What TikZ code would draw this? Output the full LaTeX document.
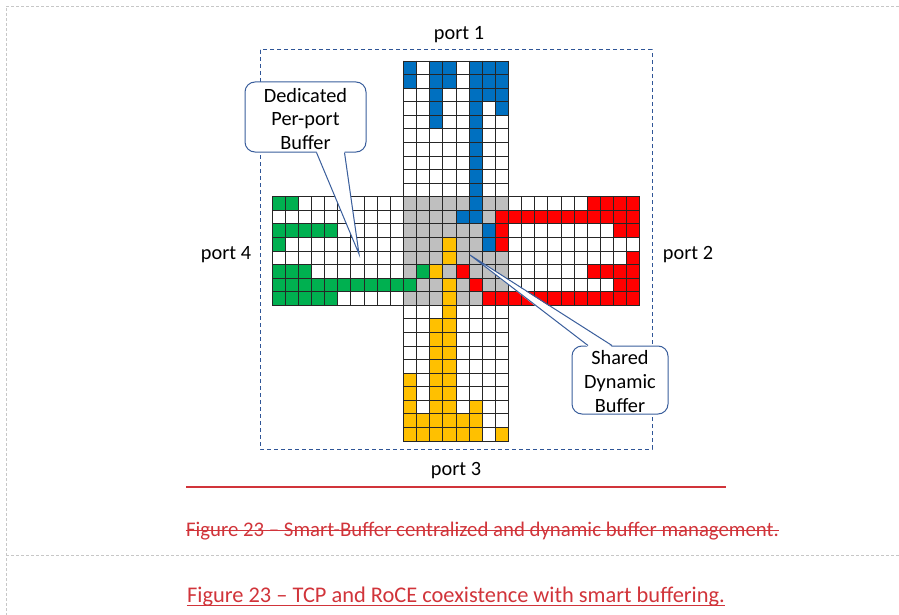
\documentclass[tikz,border=0pt]{standalone}
\usepackage{fontspec}
\setmainfont{Carlito}
\definecolor{cblue}{HTML}{0070C0}
\definecolor{cgreen}{HTML}{00B050}
\definecolor{cred}{HTML}{FF0000}
\definecolor{cyellow}{HTML}{FFC000}
\definecolor{cgray}{HTML}{BFBFBF}
\definecolor{portblue}{HTML}{2F5597}
\definecolor{bubbleblue}{HTML}{3A5E9C}
\definecolor{capred}{HTML}{D1343A}
\tikzset{
  cellline/.style={draw=black!85, line width=0.9pt, line cap=rect},
  frameline/.style={draw=black!22, dash pattern=on 3pt off 2pt, line width=0.8pt},
  portframe/.style={draw=portblue, dash pattern=on 4pt off 3pt, line width=1pt},
  bubble/.style={draw=bubbleblue, line width=1pt, fill=white, rounded corners=10pt, inner sep=0pt},
  bubbletext/.style={align=center, inner sep=0pt, font=\fontsize{20.3}{23.7}\selectfont},
  bubbleline/.style={draw=bubbleblue, line width=1pt, line join=miter},
  portlabel/.style={font=\fontsize{20.3}{24}\selectfont, inner sep=0pt, anchor=base},
  caption/.style={text=capred, inner sep=0pt, anchor=base},
  capline/.style={draw=capred, line width=1.3pt},
}
\begin{document}
\begin{tikzpicture}[x=1pt,y=-1pt]
\useasboundingbox (0,0) rectangle (899,615);
\fill[white] (0,0) rectangle (899,615);

% page frame
\draw[frameline] (899,6) -- (6,6) -- (6,615);
\draw[frameline] (6,555) -- (899,555);

% switch boundary
\draw[portframe] (260,50) rectangle (652,449);

% buffer cells: cross of 28 x 28 cells
\begin{scope}[shift={(272,61)}, x=13.14pt, y=-13.57pt]
  \fill[white] (10,0) rectangle (18,28);
  \fill[white] (0,10) rectangle (28,18);
  \fill[cgray] (10,10) rectangle (18,18);
  % port 1 queue
  \foreach \ca/\cb/\ra/\rb in {10/10/0/1, 12/13/0/1, 15/17/0/2, 12/12/2/4, 17/17/3/3,
      15/15/3/11, 14/14/11/11, 16/16/12/13}
    \fill[cblue] (\ca,\ra) rectangle ({\cb+1},{\rb+1});
  % port 2 queue
  \foreach \ca/\cb/\ra/\rb in {24/27/10/10, 17/27/11/11, 17/17/12/13, 26/27/12/12,
      27/27/14/14, 14/14/15/15, 24/27/15/15, 15/15/16/16, 26/27/16/16, 16/27/17/17}
    \fill[cred] (\ca,\ra) rectangle ({\cb+1},{\rb+1});
  % port 4 queue
  \foreach \ca/\cb/\ra/\rb in {0/1/10/10, 0/4/12/12, 0/0/13/13, 0/2/15/15, 11/11/15/15,
      0/10/16/16, 0/4/17/17}
    \fill[cgreen] (\ca,\ra) rectangle ({\cb+1},{\rb+1});
  % port 3 queue
  \foreach \ca/\cb/\ra/\rb in {13/13/13/14, 12/12/15/15, 13/13/16/27, 12/12/19/27,
      10/10/23/27, 11/11/26/27, 14/14/26/27, 15/15/25/27, 17/17/27/27}
    \fill[cyellow] (\ca,\ra) rectangle ({\cb+1},{\rb+1});
  % cell borders
  \foreach \i in {10,...,18} \draw[cellline] (\i,0) -- (\i,28);
  \foreach \i in {0,...,9,19,20,...,28} \draw[cellline] (\i,10) -- (\i,18);
  \foreach \j in {10,...,18} \draw[cellline] (0,\j) -- (28,\j);
  \foreach \j in {0,...,9,19,20,...,28} \draw[cellline] (10,\j) -- (18,\j);
\end{scope}

% port labels
\node[portlabel] (port1) at (459,40) {port 1};
\node[portlabel] (port2) at (688,259) {port 2};
\node[portlabel] (port3) at (456,475) {port 3};
\node[portlabel] (port4) at (226,259) {port 4};

% callout: dedicated buffer
\node[bubble, minimum width=121pt, minimum height=70pt] (dedicated) at (305.5,117) {};
\coordinate (dedtip) at (359,254);
\fill[white] ([xshift=11pt,yshift=1.5pt]dedicated.south) -- (dedtip)
  -- ([xshift=39pt,yshift=1.5pt]dedicated.south) -- cycle;
\draw[bubbleline] ([xshift=11pt]dedicated.south) -- (dedtip) -- ([xshift=39pt]dedicated.south);
\node[bubbletext] (dedicatedtext) at ([yshift=-2pt]dedicated.center) {Dedicated\\Per-port\\Buffer};

% callout: shared buffer
\node[bubble, minimum width=96pt, minimum height=68pt] (shared) at (620,380) {};
\coordinate (sharedtip) at (470,255);
\fill[white] ([xshift=-32pt,yshift=-1.5pt]shared.north) -- (sharedtip)
  -- ([xshift=-8pt,yshift=-1.5pt]shared.north) -- cycle;
\draw[bubbleline] ([xshift=-32pt]shared.north) -- (sharedtip) -- ([xshift=-8pt]shared.north);
\node[bubbletext] (sharedtext) at ([yshift=-1.5pt]shared.center) {Shared\\Dynamic\\Buffer};

% captions
\draw[capline, line width=1.5pt] (186,487) -- (726,487);
\node[caption, font=\fontsize{20.8}{25}\selectfont] (oldcap) at (482.5,536)
  {Figure 23 – Smart-Buffer centralized and dynamic buffer management.};
\draw[capline] ([yshift=5.5pt]oldcap.base west) -- ([yshift=5.5pt]oldcap.base east);
\node[caption, font=\fontsize{22.4}{27}\selectfont] (newcap) at (456,602)
  {Figure 23 – TCP and RoCE coexistence with smart buffering.};
\draw[capline] ([yshift=-3.5pt]newcap.base west) -- ([yshift=-3.5pt]newcap.base east);
\end{tikzpicture}
\end{document}
